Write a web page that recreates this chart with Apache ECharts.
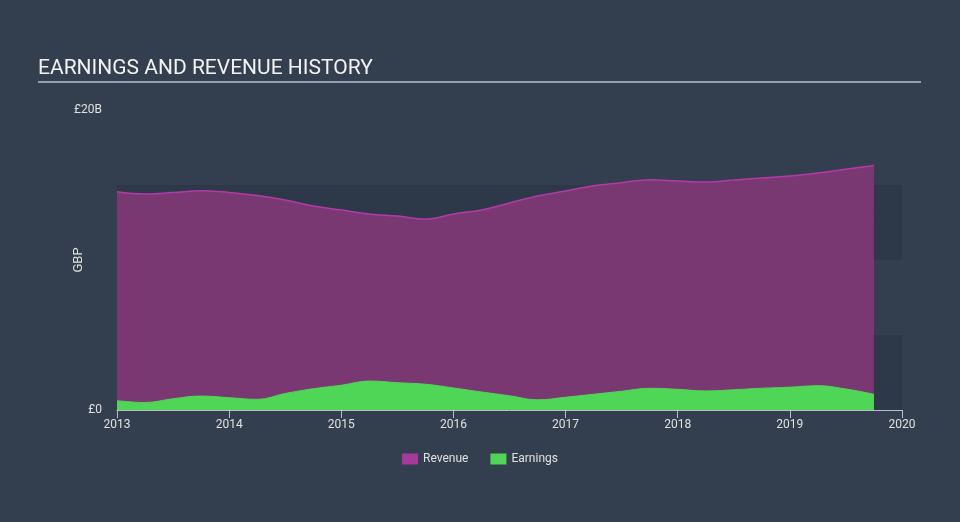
<!DOCTYPE html>
<html>
<head>
<meta charset="utf-8">
<script src="https://cdn.jsdelivr.net/npm/echarts@6/dist/echarts.min.js"></script>
<style>
html,body{margin:0;padding:0;background:#333f4f;}
#c{width:960px;height:522px;}
</style>
</head>
<body>
<div id="c"></div>
<script>
var quarters = [2013.00,2013.25,2013.50,2013.75,2014.00,2014.25,2014.50,2014.75,
  2015.00,2015.25,2015.50,2015.75,2016.00,2016.25,2016.50,2016.75,
  2017.00,2017.25,2017.50,2017.75,2018.00,2018.25,2018.50,2018.75,
  2019.00,2019.25,2019.50,2019.75];
var revenue = [14.55,14.4,14.5,14.62,14.5,14.3,14.0,13.6,
  13.33,13.07,12.93,12.73,13.07,13.33,13.8,14.27,
  14.6,14.95,15.15,15.35,15.27,15.2,15.33,15.47,
  15.6,15.8,16.05,16.3];
var earnings = [0.62,0.5,0.75,0.93,0.82,0.71,1.1,1.42,
  1.65,1.93,1.82,1.72,1.47,1.2,0.95,0.68,
  0.85,1.05,1.25,1.45,1.38,1.27,1.35,1.45,
  1.52,1.62,1.4,1.05];
var yTickLabels = {0:'£0', 20:'£20B'};

function pairs(xs, ys){ return xs.map(function(x,i){return [x, ys[i]];}); }

var chart = echarts.init(document.getElementById('c'), null, {renderer:'canvas'});
chart.setOption({
  backgroundColor:'#333f4f',
  animation:false,
  textStyle:{fontFamily:'Roboto'},
  title:{text:'EARNINGS AND REVENUE HISTORY', left:33, top:53,
    textStyle:{color:'#f2f2f2', fontSize:21, fontWeight:'normal', fontFamily:'Roboto'}},
  graphic:[{type:'line', shape:{x1:38,y1:82,x2:921,y2:82}, style:{stroke:'#b8bec6', lineWidth:1.5}}],
  legend:{bottom:52, left:'center', itemWidth:16, itemHeight:11, itemGap:22, icon:'rect',
    textStyle:{color:'#e0e0e0', fontSize:12},
    data:[{name:'Revenue', itemStyle:{color:'#a43a9c'}},{name:'Earnings', itemStyle:{color:'#4fd656'}}]},
  grid:{left:117, right:58, top:110, bottom:112},
  xAxis:{type:'value', min:2013, max:2020, interval:1,
    axisLine:{lineStyle:{color:'#b8bec6'}},
    axisTick:{show:true, length:8, lineStyle:{color:'#b8bec6'}},
    axisLabel:{color:'#e0e0e0', fontSize:12, margin:9, formatter:function(v){return String(Math.round(v));}},
    splitLine:{show:false}},
  yAxis:{type:'value', min:0, max:20, interval:5,
    name:'GBP', nameLocation:'middle', nameGap:32, nameRotate:90, nameMoveOverlap:false,
    nameTextStyle:{color:'#e0e0e0', fontSize:13},
    axisLine:{show:false}, axisTick:{show:false},
    axisLabel:{color:'#e0e0e0', fontSize:12, margin:15, formatter:function(v){return yTickLabels[v]||'';}},
    splitLine:{show:false},
    splitArea:{show:true, areaStyle:{color:['rgba(20,28,38,0.16)','rgba(0,0,0,0)']}}},
  series:[
    {name:'Revenue', type:'line', smooth:0.4, symbol:'none', data:pairs(quarters, revenue),
      lineStyle:{color:'#b13ba7', width:1.5},
      itemStyle:{color:'#a43a9c'},
      areaStyle:{color:'#7a3873', opacity:1}},
    {name:'Earnings', type:'line', smooth:0.4, symbol:'none', data:pairs(quarters, earnings),
      lineStyle:{color:'#4fd656', width:1},
      itemStyle:{color:'#4fd656'},
      areaStyle:{color:'#4fd656', opacity:1}}
  ]
});
</script>
</body>
</html>
